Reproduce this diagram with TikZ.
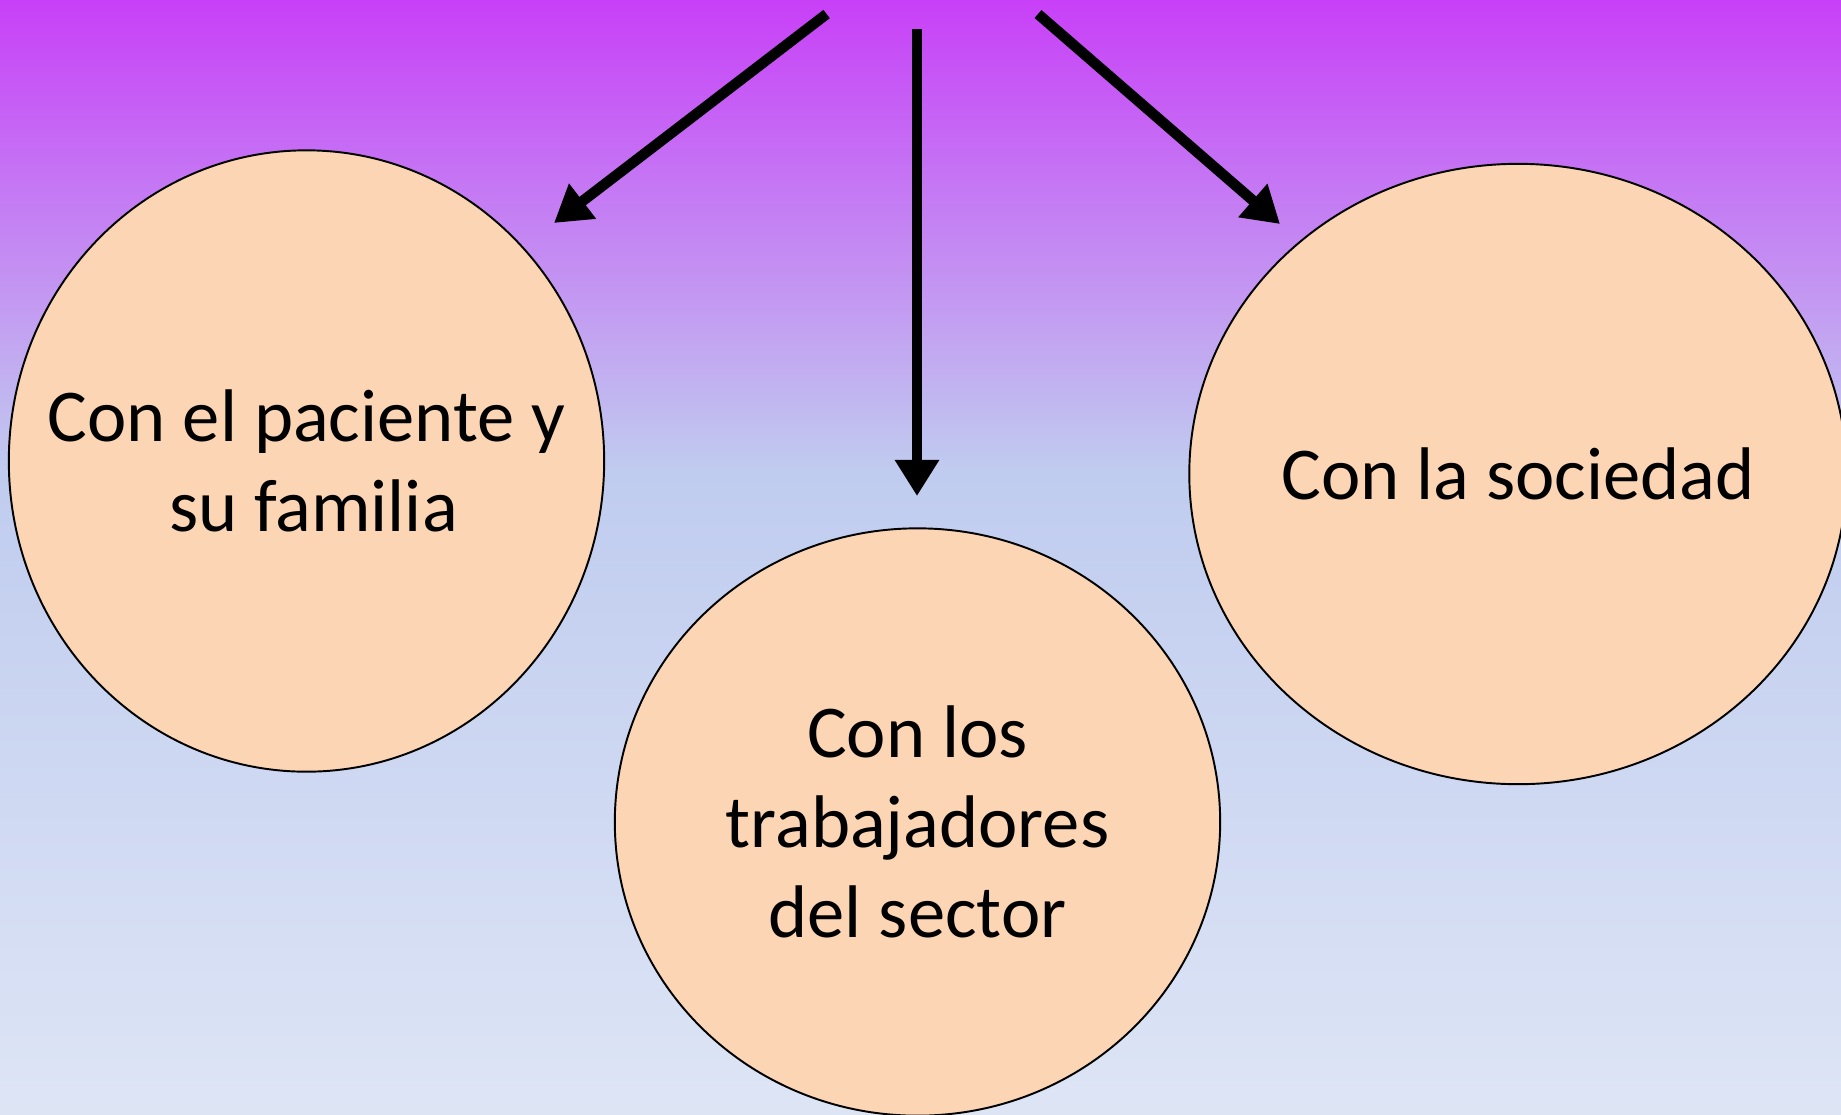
\documentclass[tikz,border=0pt]{standalone}
\usepackage{fontspec}
\setmainfont{Carlito}
\usetikzlibrary{shapes.geometric,arrows.meta}
\definecolor{bgtop}{RGB}{200,64,247}
\definecolor{bgmid}{RGB}{192,204,239}
\definecolor{bgbot}{RGB}{221,229,245}
\definecolor{peach}{RGB}{252,213,181}
\tikzset{
  bubble/.style={ellipse,draw=black,line width=0.55pt,fill=peach,inner sep=0pt},
  bubbletext/.style={align=center,inner sep=0pt,font=\fontsize{21.2}{25.5}\selectfont},
  bigarrow/.style={line width=3pt,-{Triangle[length=0.36cm,width=0.42cm]}}
}
\begin{document}
\begin{tikzpicture}[x=0.01cm,y=-0.01cm]
          \useasboundingbox (0,0) rectangle (1841,1114);
          \shade[top color=bgtop,bottom color=bgmid] (0,0) rectangle (1841,471);
          \shade[top color=bgmid,bottom color=bgbot] (0,470) rectangle (1841,1114);
          \begin{scope}
          \clip (0,0) rectangle (1841,1114);
          \node[bubble,minimum width=5.95cm,minimum height=6.21cm] (paciente) at (306.5,461) {};
          \node[bubble,minimum width=6.05cm,minimum height=5.87cm] (trabajadores) at (917.5,822) {};
          \node[bubble,minimum width=6.57cm,minimum height=6.20cm] (sociedad) at (1518,474) {};
          \end{scope}
          \node[bubbletext] (pacienteT) at (paciente.center) {Con el paciente y\\\hspace*{0.14cm}su familia};
          \node[bubbletext] (trabajadoresT) at (trabajadores.center) {Con los\\trabajadores\\del sector};
          \node[bubbletext] (sociedadT) at (sociedad.center) {Con la sociedad};
          \coordinate (izqA) at (826.6,14);
          \coordinate (izqB) at (554,223);
          \coordinate (cenA) at (917,29);
          \coordinate (cenB) at (917,496);
          \coordinate (derA) at (1038,14);
          \coordinate (derB) at (1280,224);
          \draw[bigarrow] (izqA)--(izqB);
          \draw[bigarrow] (cenA)--(cenB);
          \draw[bigarrow] (derA)--(derB);
        \end{tikzpicture}
\end{document}
